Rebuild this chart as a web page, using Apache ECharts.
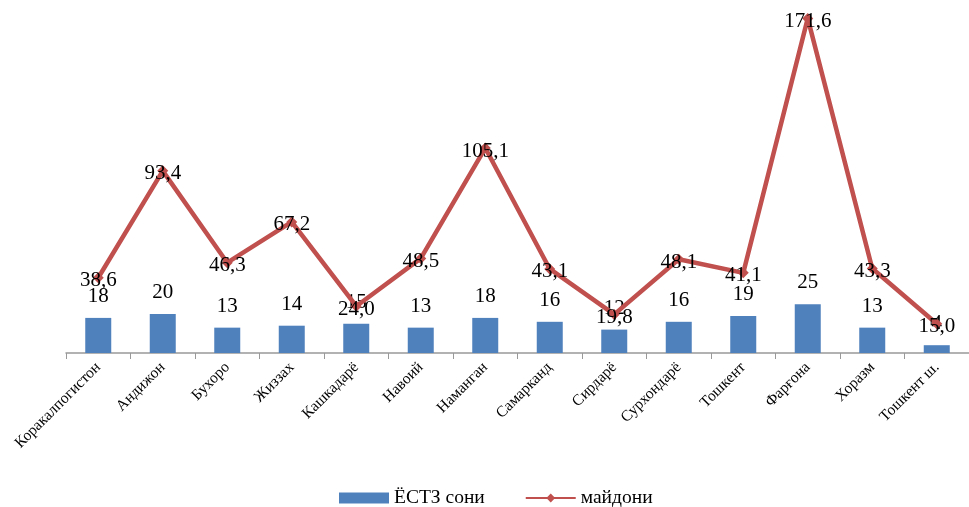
<!DOCTYPE html>
<html><head><meta charset="utf-8">
<script src="https://cdn.jsdelivr.net/npm/echarts@6/dist/echarts.min.js"></script>
<style>html,body{margin:0;padding:0;background:#fff}#c{width:969px;height:507px}</style>
</head><body><div id="c"></div>
<script>
const categories = ["Коракалпогистон","Андижон","Бухоро","Жиззах","Кашкадарё","Навоий","Наманган","Самарканд","Сирдарё","Сурхондарё","Тошкент","Фарғона","Хоразм","Тошкент ш."];
const barName = "ЁСТЗ сони";
const lineName = "майдони";
const barValues = [18,20,13,14,15,13,18,16,12,16,19,25,13,4];
const lineValues = [38.6,93.4,46.3,67.2,24.0,48.5,105.1,43.1,19.8,48.1,41.1,171.6,43.3,15.0];

const fontFam = "'Liberation Serif','Times New Roman',serif";
const chart = echarts.init(document.getElementById('c'));
chart.setOption({
  animation: false,
  textStyle: {fontFamily: fontFam},
  grid: {left: 66, right: -7, top: 2, bottom: 154},
  legend: {
    top: 483, left: 334, itemGap: 40, itemWidth: 50, itemHeight: 11,
    textStyle: {fontFamily: fontFam, fontSize: 19.5, color: '#000'},
    data: [{name: barName, icon: 'rect'}, {name: lineName}]
  },
  xAxis: {
    type: 'category', data: categories,
    axisLine: {lineStyle: {color: '#999', width: 1.5}},
    axisTick: {show: true, length: 6, lineStyle: {color: '#999'}},
    axisLabel: {rotate: 45, fontSize: 15.5, color: '#000', fontFamily: fontFam, margin: 12, interval: 0}
  },
  yAxis: {type: 'value', min: 0, max: 180, show: false, splitLine: {show: false}},
  series: [
    {
      name: barName, type: 'bar', data: barValues, barWidth: 26,
      itemStyle: {color: '#4F81BD'},
      label: {show: true, position: 'top', distance: 11, fontSize: 21, color: '#000', fontFamily: fontFam}
    },
    {
      name: lineName, type: 'line', data: lineValues,
      lineStyle: {color: '#C0504D', width: 4.5},
      itemStyle: {color: '#C0504D'},
      symbol: 'diamond', symbolSize: 11,
      label: {show: true, position: 'inside', offset: [0, 3], fontSize: 21, color: '#000', fontFamily: fontFam,
        formatter: p => p.value.toFixed(1).replace('.', ',')}
    }
  ]
});
</script></body></html>
